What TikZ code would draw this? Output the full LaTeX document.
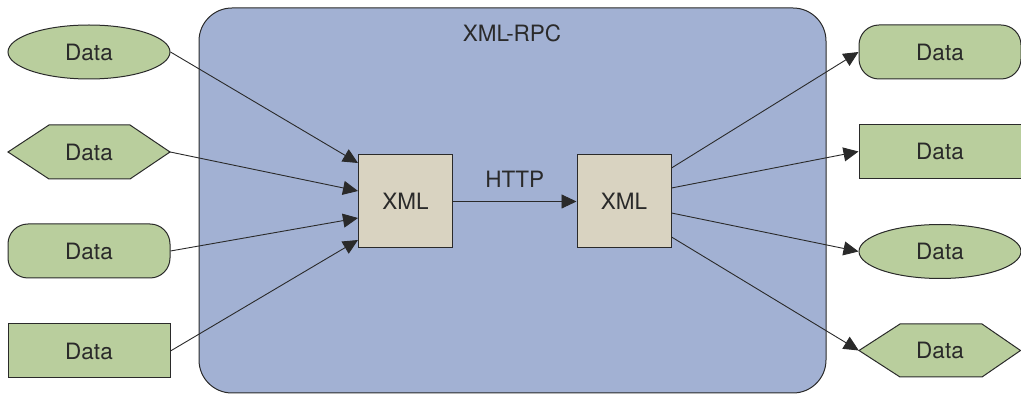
\documentclass[tikz,border=0pt]{standalone}
\usepackage{fontspec}
\setmainfont{TeX Gyre Heros}
\usetikzlibrary{shapes.geometric,arrows.meta}
\definecolor{rpcblue}{HTML}{A2B1D3}
\definecolor{datagreen}{HTML}{B9CE9D}
\definecolor{xmlbeige}{HTML}{D9D3C1}
\definecolor{edge}{HTML}{2A2A2A}
\begin{document}
\begin{tikzpicture}[x=1pt,y=1pt,
  every node/.style={font=\fontsize{22.5}{26}\selectfont, text=edge},
  databox/.style={draw=edge, line width=1pt, fill=datagreen, minimum width=162pt, minimum height=54pt, inner sep=0pt},
  dataround/.style={databox, rounded corners=20pt},
  dataell/.style={databox, ellipse},
  datahex/.style={minimum width=162pt, minimum height=54pt, inner sep=0pt},
  hexfill/.style={draw=edge, line width=1pt, fill=datagreen},
  xmlbox/.style={draw=edge, line width=1pt, fill=xmlbeige, minimum width=94pt, minimum height=93pt, inner sep=0pt},
  conn/.style={draw=edge, line width=0.9pt, -{Triangle[length=15pt,width=14pt]}}
]
\useasboundingbox (0,0) rectangle (1021,-395);
% outer XML-RPC box
\node[draw=edge, line width=1pt, fill=rpcblue, rounded corners=33pt, minimum width=627pt, minimum height=385pt, inner sep=0pt] (rpc) at (512.5,-200.5) {};
\node (rpclabel) at (512,-33) {XML-RPC};
% left inputs
\node[dataell] (l1) at (89,-52) {Data};
\filldraw[hexfill] (8,-152) -- (49,-125) -- (130,-125) -- (170,-152) -- (130,-179) -- (49,-179) -- cycle;
\node[datahex] (l2) at (89,-152) {Data};
\node[dataround] (l3) at (89,-251) {Data};
\node[databox] (l4) at (89,-351) {Data};
% right outputs
\node[dataround] (r1) at (940,-52) {Data};
\node[databox] (r2) at (940,-151.5) {Data};
\node[dataell] (r3) at (940,-251.5) {Data};
\filldraw[hexfill] (859,-350.5) -- (900,-324) -- (982,-324) -- (1020.5,-350.5) -- (982,-377) -- (900,-377) -- cycle;
\node[datahex] (r4) at (940,-350.5) {Data};
% XML boxes
\node[xmlbox] (xl) at (405.5,-201.5) {XML};
\node[xmlbox] (xr) at (624,-201.5) {XML};
\path[conn] (xl.east) -- node[above=10pt] (http) {HTTP} (xr.west);
% connectors
\path[conn] (l1.east) -- ([yshift=38.5pt]xl.west);
\path[conn] (l2.east) -- ([yshift=10.5pt]xl.west);
\path[conn] (l3.east) -- ([yshift=-16.5pt]xl.west);
\path[conn] (l4.east) -- ([yshift=-38.5pt]xl.west);
\path[conn] ([yshift=33.5pt]xr.east) -- (r1.west);
\path[conn] ([yshift=13.5pt]xr.east) -- (r2.west);
\path[conn] ([yshift=-11.5pt]xr.east) -- (r3.west);
\path[conn] ([yshift=-35.5pt]xr.east) -- (r4.west);
\end{tikzpicture}
\end{document}
